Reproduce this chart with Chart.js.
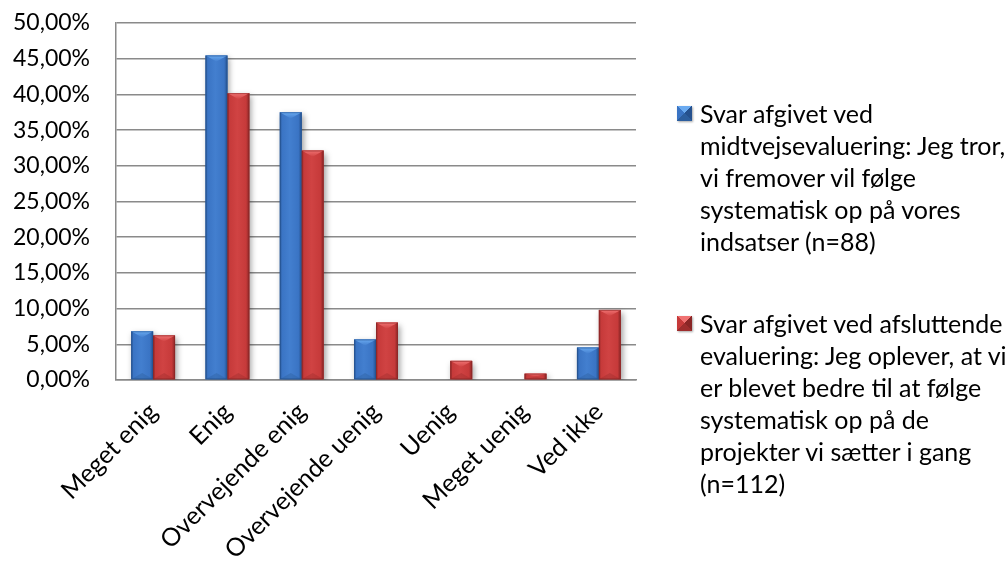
<!DOCTYPE html>
<html>
<head>
<meta charset="utf-8">
<script src="https://cdn.jsdelivr.net/npm/chart.js@4"></script>
<style>
  html, body { margin: 0; padding: 0; background: #fff; }
  #wrap { position: relative; width: 1008px; height: 562px; overflow: hidden; }
  #c { position: absolute; left: 0; top: 0; }
  .lg { position: absolute; left: 677px; font-family: Lato, "Open Sans", sans-serif; font-size: 25px; line-height: 32px; color: #000; }
  .lg .mk { position: absolute; left: 0; top: 9px; width: 15px; height: 15px; box-shadow: 1px 1px 2px rgba(0,0,0,0.35); }
  .lg .tx { position: absolute; left: 23px; top: 0; white-space: nowrap; }
</style>
</head>
<body>
<div id="wrap">
  <canvas id="c" width="1008" height="562"></canvas>
  <div id="legend"></div>
</div>
<script>
// Answer categories along the x axis
const categories = ["Meget enig", "Enig", "Overvejende enig", "Overvejende uenig", "Uenig", "Meget uenig", "Ved ikke"];

// Share of answers in percent
const midtvejsValues = [6.82, 45.45, 37.50, 5.68, 0, 0, 4.55];
const afsluttendeValues = [6.25, 40.18, 32.14, 8.04, 2.68, 0.89, 9.82];

// Series names, split into the lines shown in the legend
const midtvejsLabel = ["Svar afgivet ved", "midtvejsevaluering: Jeg tror,", "vi fremover vil følge", "systematisk op på vores", "indsatser (n=88)"];
const afsluttendeLabel = ["Svar afgivet ved afsluttende", "evaluering: Jeg oplever, at vi", "er blevet bedre til at følge", "systematisk op på de", "projekter vi sætter i gang", "(n=112)"];

// Value axis range
const yMin = 0, yMax = 50, yStep = 5;

const FONT = "Lato, 'Open Sans', sans-serif";

// Bevel palette per series: main face, dark edge, light top, darker bottom
const palettes = [
  { main: "#3a74c4", mid: "#437fcf", edge: "#25518e", top: "#6aaaf0", bottom: "#2c5e9e" },
  { main: "#c63a3a", mid: "#d04343", edge: "#8a2626", top: "#f07272", bottom: "#9e2d2d" }
];

const pctFmt = v => v.toFixed(2).replace(".", ",") + "%";

// Draws the bars with a soft shadow, then paints a bevelled face over each one
const bevelPlugin = {
  id: "bevel",
  beforeDatasetsDraw(chart) {
    const ctx = chart.ctx;
    ctx.save();
    ctx.shadowColor = "rgba(0,0,0,0.38)";
    ctx.shadowBlur = 6;
    ctx.shadowOffsetX = 2;
    ctx.shadowOffsetY = 3;
  },
  afterDatasetsDraw(chart) {
    const ctx = chart.ctx;
    ctx.restore();
    chart.data.datasets.forEach((ds, di) => {
      const meta = chart.getDatasetMeta(di);
      const p = palettes[di];
      meta.data.forEach(bar => {
        const { x, y, base, width } = bar.getProps(["x", "y", "base", "width"], true);
        const h = base - y;
        if (h <= 0.5) return;
        const l = x - width / 2, r = x + width / 2;
        ctx.save();
        // front face with darker side edges
        const g = ctx.createLinearGradient(l, 0, r, 0);
        g.addColorStop(0, p.edge);
        g.addColorStop(0.1, p.main);
        g.addColorStop(0.45, p.mid);
        g.addColorStop(0.85, p.main);
        g.addColorStop(1, p.edge);
        ctx.fillStyle = g;
        ctx.fillRect(l, y, width, h);
        const d = Math.min(width * 0.28, h / 2);
        // bottom facet
        ctx.beginPath();
        ctx.moveTo(l, base); ctx.lineTo(r, base); ctx.lineTo(x, base - d); ctx.closePath();
        ctx.fillStyle = p.bottom;
        ctx.globalAlpha = 0.4;
        ctx.fill();
        ctx.globalAlpha = 1;
        // top facet
        ctx.beginPath();
        ctx.moveTo(l, y); ctx.lineTo(r, y); ctx.lineTo(x, y + d); ctx.closePath();
        const tg = ctx.createLinearGradient(0, y, 0, y + d);
        tg.addColorStop(0, p.top);
        tg.addColorStop(1, p.mid);
        ctx.fillStyle = tg;
        ctx.fill();
        // thin outline
        ctx.strokeStyle = p.edge;
        ctx.globalAlpha = 0.6;
        ctx.lineWidth = 1;
        ctx.strokeRect(l + 0.5, y + 0.5, width - 1, h - 1);
        ctx.restore();
      });
    });
  }
};

const chart = new Chart(document.getElementById("c"), {
  type: "bar",
  data: {
    labels: categories,
    datasets: [
      { label: midtvejsLabel.join(" "), data: midtvejsValues, backgroundColor: palettes[0].main,
        barPercentage: 1, categoryPercentage: 0.59 },
      { label: afsluttendeLabel.join(" "), data: afsluttendeValues, backgroundColor: palettes[1].main,
        barPercentage: 1, categoryPercentage: 0.59 }
    ]
  },
  options: {
    responsive: false,
    animation: false,
    layout: { padding: { top: 23, right: 372, left: 0, bottom: 0 } },
    plugins: { legend: { display: false }, tooltip: { enabled: false } },
    scales: {
      x: {
        grid: { display: false, drawTicks: false },
        border: { display: true, color: "#8a8a8a", width: 1.5 },
        ticks: {
          color: "#000", font: { family: FONT, size: 25 },
          minRotation: 45, maxRotation: 45, padding: 17, autoSkip: false
        },
        afterFit: s => { s.height = 182; }
      },
      y: {
        min: yMin, max: yMax,
        grid: { color: "#8a8a8a", lineWidth: 1.5, drawTicks: true, tickLength: 23, tickColor: "rgba(0,0,0,0)" },
        border: { display: true, color: "#8a8a8a", width: 1.5 },
        ticks: {
          stepSize: yStep, color: "#000", font: { family: FONT, size: 23 }, padding: 3,
          callback: v => pctFmt(v)
        },
        afterFit: s => { s.width = 116; }
      }
    }
  },
  plugins: [bevelPlugin]
});

// Legend built from the series names and palettes
const legendItems = [
  { lines: midtvejsLabel, top: 97, pal: palettes[0] },
  { lines: afsluttendeLabel, top: 307, pal: palettes[1] }
];
const legendEl = document.getElementById("legend");
legendItems.forEach(item => {
  const box = document.createElement("div");
  box.className = "lg";
  box.style.top = item.top + "px";
  const mk = document.createElement("div");
  mk.className = "mk";
  mk.style.background = `conic-gradient(from -45deg at 50% 50%, ${item.pal.top} 0deg 90deg, ${item.pal.edge} 90deg 180deg, ${item.pal.bottom} 180deg 270deg, ${item.pal.main} 270deg 360deg)`;
  const tx = document.createElement("div");
  tx.className = "tx";
  tx.innerHTML = item.lines.map(s => s.replace(/&/g, "&amp;").replace(/</g, "&lt;")).join("<br>");
  box.appendChild(mk);
  box.appendChild(tx);
  legendEl.appendChild(box);
});
</script>
</body>
</html>
